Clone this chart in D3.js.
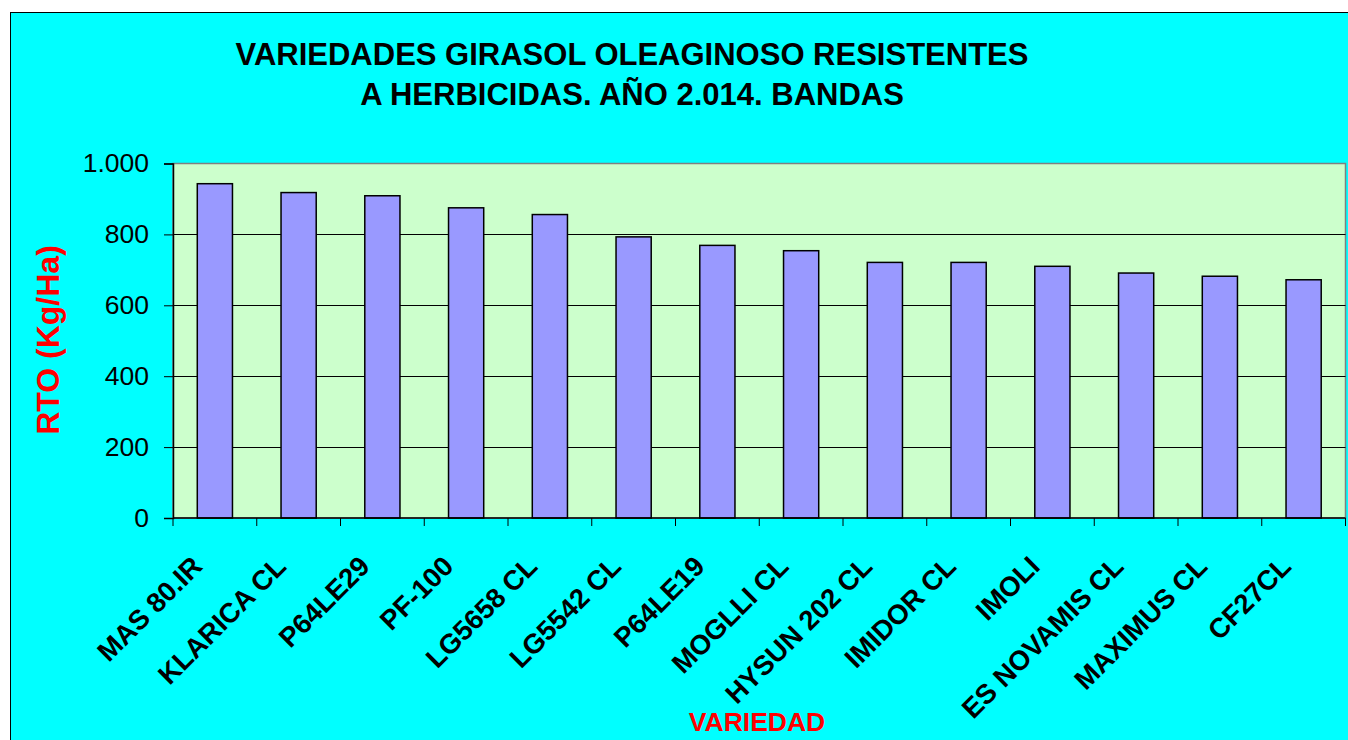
<!DOCTYPE html>
<html>
<head>
<meta charset="utf-8">
<script src="https://cdn.jsdelivr.net/npm/d3@7"></script>
<style>
  html, body { margin: 0; padding: 0; background: #ffffff; overflow: hidden; }
  svg { display: block; }
  text { font-family: "Liberation Sans", Arial, sans-serif; }
</style>
</head>
<body>
<svg id="chart" width="1348" height="740"></svg>
<script>
const categories = ["MAS 80.IR", "KLARICA CL", "P64LE29", "PF-100", "LG5658 CL", "LG5542 CL", "P64LE19", "MOGLLI CL", "HYSUN 202 CL", "IMIDOR CL", "IMOLI", "ES NOVAMIS CL", "MAXIMUS CL", "CF27CL"];
const rtoValues = [943, 918, 909, 875, 856, 793, 769, 754, 721, 721, 710, 691, 682, 672];
const yTicks = [0, 200, 400, 600, 800, 1000];
const yTickLabels = ["0", "200", "400", "600", "800", "1.000"];
const titleLines = ["VARIEDADES GIRASOL OLEAGINOSO RESISTENTES", "A HERBICIDAS. AÑO 2.014. BANDAS"];
const yTitle = "RTO (Kg/Ha)";
const xTitle = "VARIEDAD";

const svg = d3.select("#chart");
const plot = { left: 173, right: 1345.5, top: 163.5, bottom: 518 };

// outer chart area
svg.append("rect").attr("x", 10.5).attr("y", 12.5).attr("width", 1400).attr("height", 800)
  .attr("fill", "#00FFFF").attr("stroke", "#000").attr("stroke-width", 1);

const x = d3.scaleBand().domain(categories).range([plot.left, plot.right])
  .paddingInner(0.58).paddingOuter(0.29);
const y = d3.scaleLinear().domain([0, 1000]).range([plot.bottom, plot.top]);

// plot area
svg.append("rect").attr("x", plot.left).attr("y", plot.top)
  .attr("width", plot.right - plot.left).attr("height", plot.bottom - plot.top)
  .attr("fill", "#CCFFCC").attr("stroke", "#808080").attr("stroke-width", 1.5);

// gridlines
svg.append("g").selectAll("line").data(yTicks.filter(d => d > 0 && d < 1000)).join("line")
  .attr("x1", plot.left).attr("x2", plot.right)
  .attr("y1", d => Math.round(y(d)) + 0.5).attr("y2", d => Math.round(y(d)) + 0.5)
  .attr("stroke", "#000").attr("stroke-width", 1);

// bars
svg.append("g").selectAll("rect").data(categories).join("rect")
  .attr("x", d => x(d)).attr("width", x.bandwidth())
  .attr("y", (d, i) => y(rtoValues[i])).attr("height", (d, i) => y(0) - y(rtoValues[i]))
  .attr("fill", "#9999FF").attr("stroke", "#000").attr("stroke-width", 1.5);

// y axis
const yAxis = d3.axisLeft(y).tickValues(yTicks).tickSize(9).tickPadding(15)
  .tickFormat((d, i) => yTickLabels[i]);
const gy = svg.append("g").attr("transform", `translate(${plot.left},0)`).call(yAxis);
gy.select(".domain").attr("stroke", "#000").attr("stroke-width", 1.5);
gy.selectAll(".tick line").attr("stroke", "#000");
gy.selectAll(".tick text").attr("font-size", 26.5).attr("fill", "#000")
  .attr("font-family", "Liberation Sans, Arial, sans-serif");

// x axis: ticks at band boundaries
const bounds = categories.map(d => x(d) - x.step() * x.paddingInner() / 2);
bounds.push(plot.right);
svg.append("line").attr("x1", plot.left).attr("x2", plot.right)
  .attr("y1", plot.bottom).attr("y2", plot.bottom).attr("stroke", "#000").attr("stroke-width", 1.5);
svg.append("g").selectAll("line").data(bounds).join("line")
  .attr("x1", d => d).attr("x2", d => d).attr("y1", plot.bottom).attr("y2", plot.bottom + 8)
  .attr("stroke", "#000").attr("stroke-width", 1);

// x labels rotated
svg.append("g").selectAll("text").data(categories).join("text")
  .attr("transform", d => `translate(${x(d) + x.bandwidth() / 2 - 11},568) rotate(-45)`)
  .attr("text-anchor", "end").attr("font-size", 27.5).attr("font-weight", "bold")
  .attr("fill", "#000").text(d => d);

// title
svg.append("g").selectAll("text").data(titleLines).join("text")
  .attr("x", 632).attr("y", (d, i) => 65 + i * 40)
  .attr("text-anchor", "middle").attr("font-size", 31).attr("font-weight", "bold")
  .attr("fill", "#000").text(d => d);

// axis titles
svg.append("text").attr("transform", "translate(59,340) rotate(-90)")
  .attr("text-anchor", "middle").attr("font-size", 32).attr("font-weight", "bold")
  .attr("fill", "#FF0000").text(yTitle);
svg.append("text").attr("x", 757).attr("y", 731)
  .attr("text-anchor", "middle").attr("font-size", 26.5).attr("font-weight", "bold")
  .attr("fill", "#FF0000").text(xTitle);
</script>
</body>
</html>
